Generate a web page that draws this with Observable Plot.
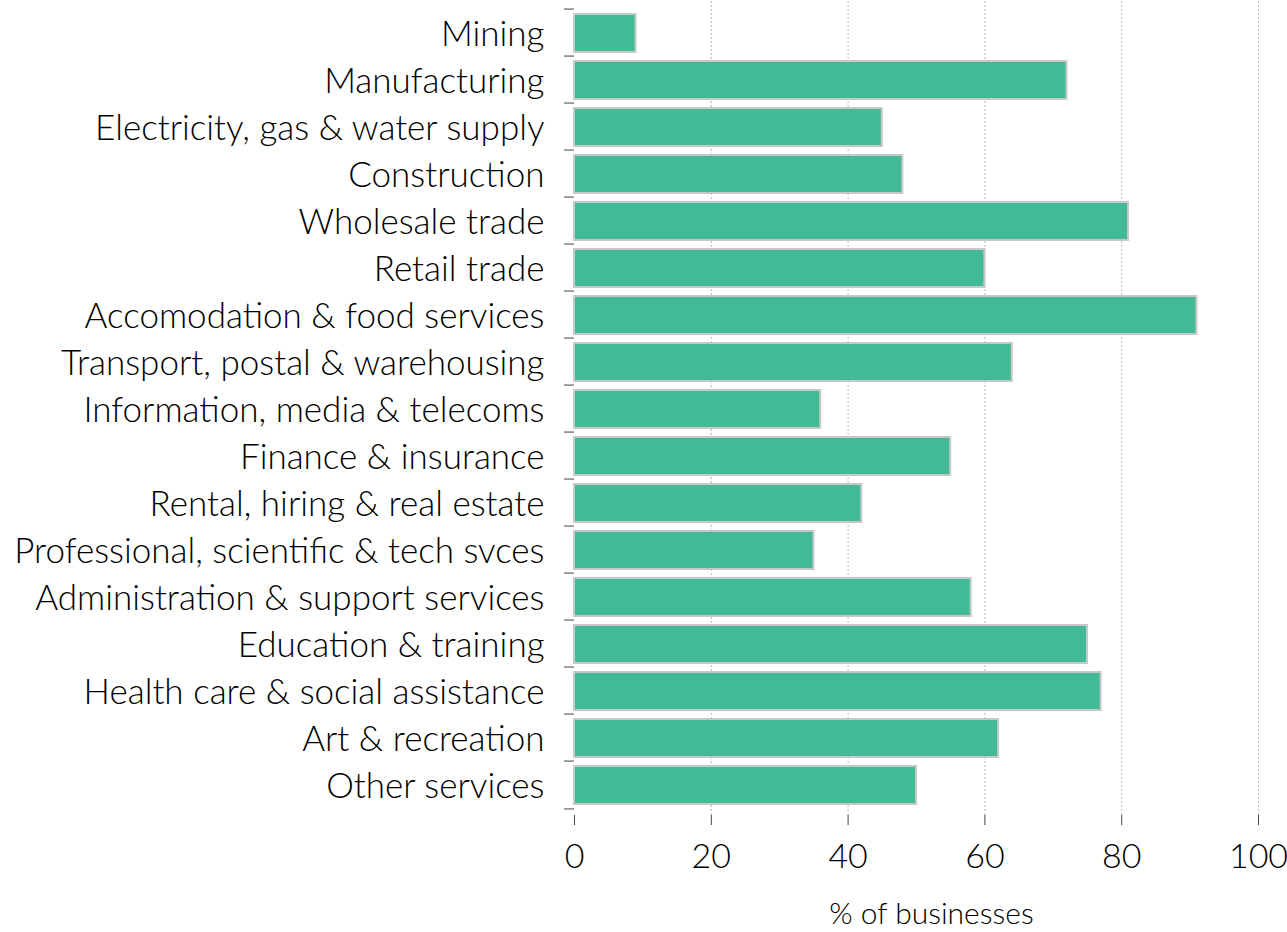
<!DOCTYPE html>
<html><head><meta charset="utf-8">
<script src="https://cdn.jsdelivr.net/npm/d3@7"></script>
<script src="https://cdn.jsdelivr.net/npm/@observablehq/plot@0.6"></script>
<style>body{margin:0;background:#fff;}</style>
</head><body><div id="chart"></div>
<script>
const industries = ["Mining","Manufacturing","Electricity, gas & water supply","Construction","Wholesale trade","Retail trade","Accomodation & food services","Transport, postal & warehousing","Information, media & telecoms","Finance & insurance","Rental, hiring & real estate","Professional, scientific & tech svces","Administration & support services","Education & training","Health care & social assistance","Art & recreation","Other services"];
const percents = [9,72,45,48,81,60,91,64,36,55,42,35,58,75,77,62,50];
const xTicks = [0,20,40,60,80,100];
const xLabel = "% of businesses";

const data = industries.map((d,i)=>({industry:d, value:percents[i]}));
const marginTop = 1, marginBottom = 117, H = 932;
const step = (H - marginTop - marginBottom) / industries.length;

const chart = Plot.plot({
  width: 1287, height: H,
  marginLeft: 574, marginRight: 29, marginTop, marginBottom,
  style: {fontFamily: "Lato, 'Noto Sans', sans-serif", fontSize: "34px", fontWeight: 300, color: "#000", background: "#fff"},
  x: {domain: [0,100], ticks: xTicks, line: true},
  y: {domain: industries, padding: 0, line: true},
  marks: [
    Plot.gridX(xTicks.filter(d=>d>0), {stroke:"#bbb", strokeOpacity:1, strokeDasharray:"2,2"}),
    Plot.barX(data, {y:"industry", x:"value", fill:"#43BA97", stroke:"#c8c8c8", strokeWidth:2, insetTop:5, insetBottom:4}),
    Plot.axisY({tickSize:0, tickPadding:30, fontSize:35, dy:2, fill:"#000", label:null}),
    Plot.axisY(industries, {tickSize:10, tickFormat:()=>"", dy:-step/2, stroke:"#444", label:null}),
    Plot.axisY([industries[industries.length-1]], {tickSize:10, tickFormat:()=>"", dy:step/2, stroke:"#444", label:null}),
    Plot.axisX(xTicks, {tickSize:10, tickPadding:18, fontSize:34, stroke:"#444", fill:"#000", label:null}),
    Plot.text([xLabel], {text:d=>d, frameAnchor:"bottom", lineAnchor:"bottom", dx:15, dy:108, fontSize:30, fill:"#000"})
  ]
});
document.getElementById("chart").append(chart);
</script></body></html>
